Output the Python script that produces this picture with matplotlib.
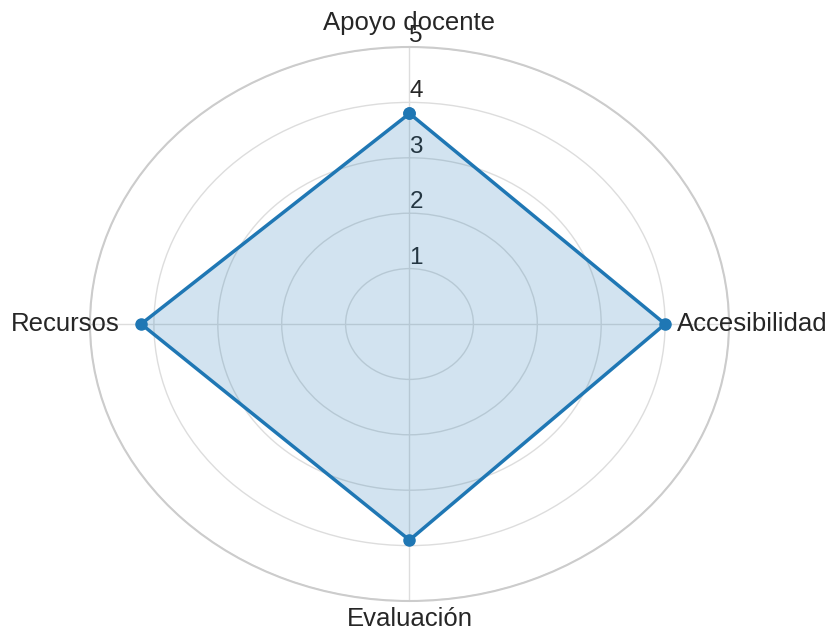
import numpy as np
import matplotlib
matplotlib.use("Agg")
import matplotlib.pyplot as plt
import seaborn as sns

sns.set_style("whitegrid")
plt.rcParams['font.family'] = ['Liberation Sans', 'DejaVu Sans']

categories = ["Apoyo docente", "Accesibilidad", "Evaluación", "Recursos"]
values = [3.8, 4.0, 3.9, 4.2]
rticks = [1, 2, 3, 4, 5]
rtick_labels = ["1", "2", "3", "4", "5"]

n = len(categories)
angles = np.linspace(0, 2 * np.pi, n, endpoint=False)
ang_closed = np.concatenate([angles, angles[:1]])
val_closed = values + values[:1]

fig = plt.figure(figsize=(8.29, 6.30), dpi=100)
ax = fig.add_axes([90 / 829, 29 / 630, 639 / 829, 554 / 630], projection="polar")
ax.set_aspect("auto")
ax.set_theta_offset(np.pi / 2)
ax.set_theta_direction(-1)
ax.set_ylim(0, 5)

color = "#1f77b4"
ax.plot(ang_closed, val_closed, color=color, linewidth=2.5, marker="o", markersize=8)
ax.fill(ang_closed, val_closed, color=color, alpha=0.2)

ax.set_xticks(angles)
ax.set_xticklabels([])
ax.set_yticks(rticks)
ax.set_yticklabels(rtick_labels, fontsize=17.5, color="#262626")
ax.set_rlabel_position(0)
for lbl in ax.get_yticklabels():
    lbl.set_horizontalalignment("left")
    lbl.set_verticalalignment("bottom")

ax.grid(True, color="#dddddd", linewidth=1)
ax.spines["polar"].set_color("#cccccc")
ax.spines["polar"].set_linewidth(1.5)

label_r = [5.44, 4.19, 5.33, 4.53]
label_ha = ["center", "left", "center", "right"]
for a, txt, r, ha in zip(angles, categories, label_r, label_ha):
    ax.text(a, r, txt, ha=ha, va="center", fontsize=18.5, color="#262626", clip_on=False)

fig.savefig("out.png", dpi=100)
